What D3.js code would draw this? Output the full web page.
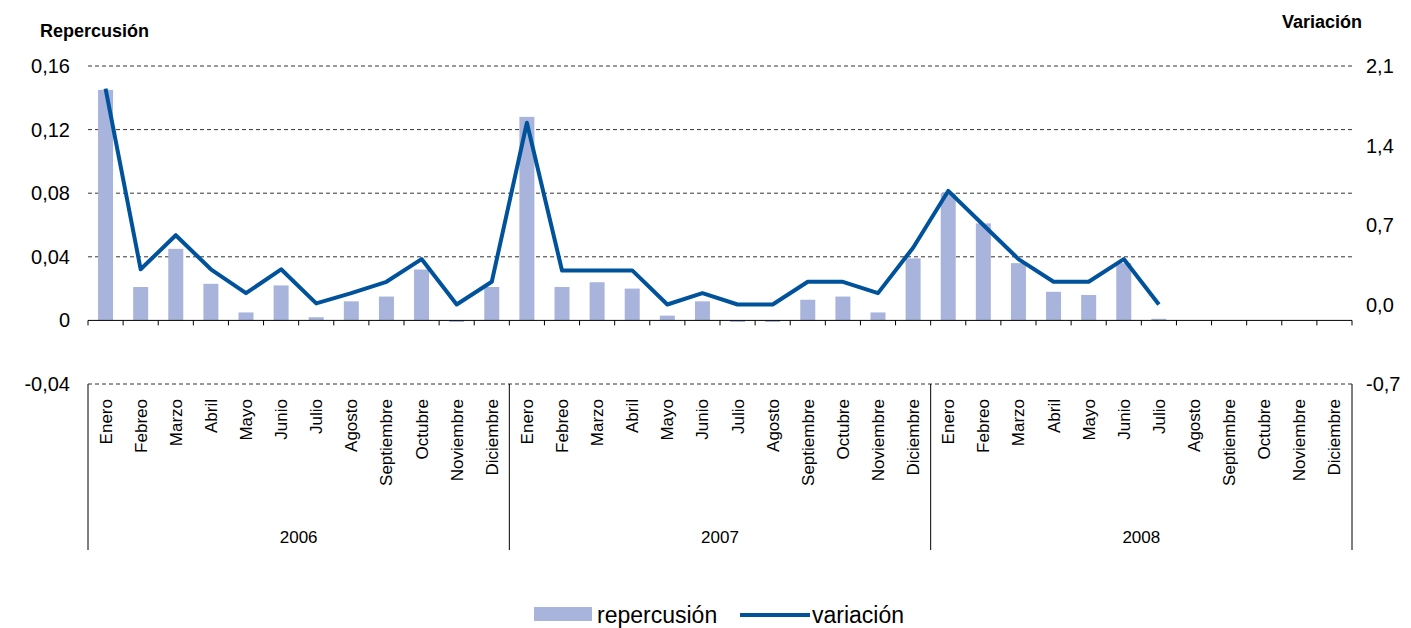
<!DOCTYPE html>
<html><head><meta charset="utf-8">
<script src="https://cdn.jsdelivr.net/npm/d3@7"></script>
<style>body{margin:0;background:#fff;font-family:Arial,"Liberation Sans",sans-serif;}</style>
</head><body><div id="area"></div>
<script>
const years = ['2006', '2007', '2008'];
const months = ['Enero','Febreo','Marzo','Abril','Mayo','Junio','Julio','Agosto','Septiembre','Octubre','Noviembre','Diciembre'];
const repercusion = [0.145,0.021,0.045,0.023,0.005,0.022,0.002,0.012,0.015,0.032,-0.001,0.021,
  0.128,0.021,0.024,0.020,0.003,0.012,-0.001,-0.001,0.013,0.015,0.005,0.039,
  0.080,0.061,0.036,0.018,0.016,0.036,0.001,null,null,null,null,null];
const variacion = [1.90,0.31,0.61,0.31,0.10,0.31,0.01,0.10,0.20,0.40,0.00,0.20,
  1.60,0.30,0.30,0.30,0.00,0.10,0.00,0.00,0.20,0.20,0.10,0.50,
  1.00,0.70,0.40,0.20,0.20,0.40,0.00,null,null,null,null,null];
const leftTicks = [-0.04,0,0.04,0.08,0.12,0.16];
const rightTicks = [-0.7,0.0,0.7,1.4,2.1];

const width = 1411, height = 628;
const x0 = 88, x1 = 1352, yTop = 66, yBot = 384;
const fmtL = d => d === 0 ? '0' : d.toFixed(2).replace('.', ',');
const fmtR = d => d.toFixed(1).replace('.', ',');

const cats = [];
years.forEach(y => months.forEach(m => cats.push(y + '|' + m)));

const x = d3.scaleBand().domain(cats).range([x0, x1]);
const yL = d3.scaleLinear().domain([-0.04, 0.16]).range([yBot, yTop]);
const yR = d3.scaleLinear().domain([-0.7, 2.1]).range([yBot, yTop]);

const svg = d3.select('#area').append('svg').attr('width', width).attr('height', height);

// grid
svg.selectAll('.grid').data(leftTicks.filter(d => d !== 0)).enter().append('line')
  .attr('x1', x0).attr('x2', x1).attr('y1', d => yL(d)).attr('y2', d => yL(d))
  .attr('stroke', '#000').attr('stroke-dasharray', '4,3').attr('stroke-width', 0.8);

// bars
svg.selectAll('.bar').data(cats.map((c, i) => ({c, v: repercusion[i]})).filter(d => d.v !== null))
  .enter().append('rect')
  .attr('x', d => x(d.c) + x.bandwidth() / 2 - 7.5).attr('width', 15)
  .attr('y', d => yL(Math.max(0, d.v))).attr('height', d => Math.abs(yL(d.v) - yL(0)))
  .attr('fill', '#A9B4DC');

// baseline with ticks
svg.append('line').attr('x1', x0).attr('x2', x1).attr('y1', yL(0)).attr('y2', yL(0)).attr('stroke', '#000');
svg.selectAll('.tk').data(d3.range(37)).enter().append('line')
  .attr('x1', i => x0 + i * x.step()).attr('x2', i => x0 + i * x.step())
  .attr('y1', yL(0)).attr('y2', yL(0) + 5).attr('stroke', '#000');

// line
const line = d3.line().defined(d => d.v !== null)
  .x(d => x(d.c) + x.bandwidth() / 2).y(d => yR(d.v));
svg.append('path').datum(cats.map((c, i) => ({c, v: variacion[i]})))
  .attr('d', line).attr('fill', 'none').attr('stroke', '#00529B').attr('stroke-width', 4)
  .attr('stroke-linejoin', 'round');

// axis labels
svg.selectAll('.lt').data(leftTicks).enter().append('text')
  .attr('x', 70).attr('y', d => yL(d) + 7).attr('text-anchor', 'end')
  .attr('font-size', 20).text(fmtL);
svg.selectAll('.rt').data(rightTicks).enter().append('text')
  .attr('x', 1366).attr('y', d => yR(d) + 7)
  .attr('font-size', 20).text(fmtR);

svg.append('text').attr('x', 40).attr('y', 37).attr('font-size', 18).attr('font-weight', 'bold').text('Repercusión');
svg.append('text').attr('x', 1282).attr('y', 28).attr('font-size', 18).attr('font-weight', 'bold').text('Variación');

// month labels
svg.selectAll('.ml').data(cats).enter().append('text')
  .attr('transform', d => `translate(${x(d) + x.bandwidth() / 2 + 6},${yBot + 15}) rotate(-90)`)
  .attr('text-anchor', 'end').attr('font-size', 17).text(d => d.split('|')[1]);

// year separators and labels
svg.selectAll('.ys').data(d3.range(4)).enter().append('line')
  .attr('x1', i => x0 + i * 12 * x.step()).attr('x2', i => x0 + i * 12 * x.step())
  .attr('y1', yBot).attr('y2', 550).attr('stroke', '#000');
svg.selectAll('.yl').data(years).enter().append('text')
  .attr('x', (d, i) => x0 + (i + 0.5) * 12 * x.step()).attr('y', 543)
  .attr('text-anchor', 'middle').attr('font-size', 17).text(d => d);

// legend
const lg = svg.append('g').attr('transform', 'translate(534,615)');
lg.append('rect').attr('x', 0).attr('y', -8).attr('width', 58).attr('height', 14).attr('fill', '#A9B4DC');
lg.append('text').attr('x', 63).attr('y', 8).attr('font-size', 23).text('repercusión');
lg.append('line').attr('x1', 206).attr('x2', 276).attr('y1', 0).attr('y2', 0).attr('stroke', '#00529B').attr('stroke-width', 4);
lg.append('text').attr('x', 278).attr('y', 8).attr('font-size', 23).text('variación');
</script></body></html>
